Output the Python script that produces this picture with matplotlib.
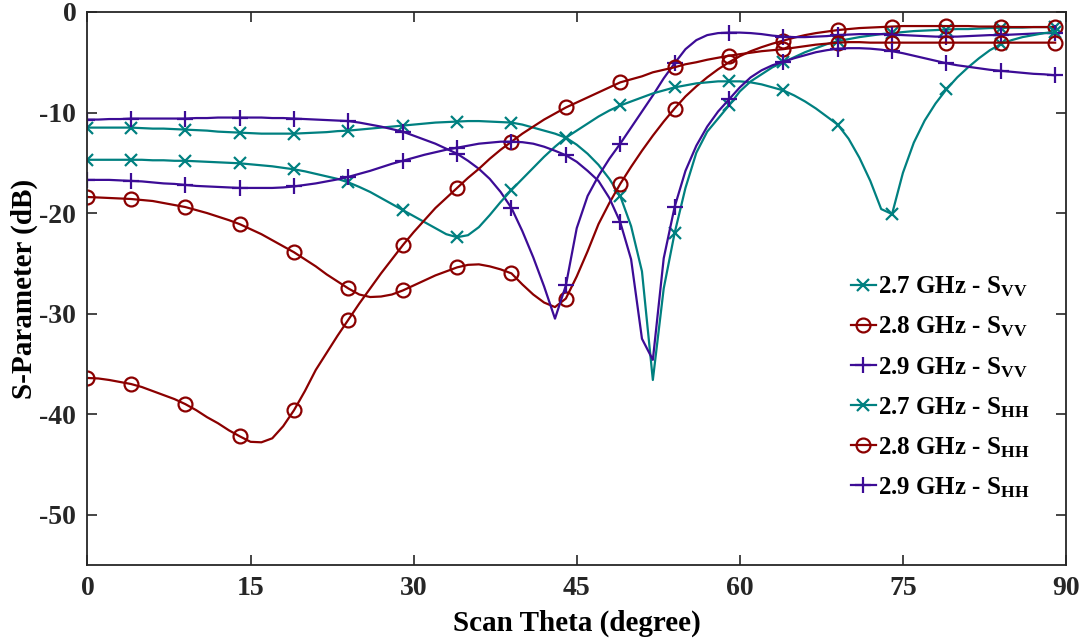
import numpy as np
import matplotlib
matplotlib.use('Agg')
import matplotlib.pyplot as plt

# 扫描角 (degree)，每 1 度一个点
theta = np.arange(0, 90)

# 2.7 GHz
s27_vv = [-11.5, -11.5, -11.5, -11.5, -11.5, -11.55, -11.6, -11.6, -11.65, -11.7,
          -11.75, -11.8, -11.9, -11.95, -12.0, -12.05, -12.1, -12.1, -12.1, -12.1,
          -12.05, -12.0, -11.95, -11.85, -11.8, -11.7, -11.6, -11.5, -11.4, -11.3,
          -11.2, -11.1, -11.0, -10.95, -10.9, -10.85, -10.85, -10.9, -10.95, -11.0,
          -11.2, -11.5, -11.8, -12.1, -12.5, -13.2, -14.1, -15.2, -16.6, -18.3,
          -21.3, -25.8, -36.6, -27.5, -22.0, -17.5, -14.0, -11.9, -10.6, -9.3,
          -7.9, -6.9, -6.2, -5.5, -5.0, -4.5, -4.0, -3.6, -3.2, -2.9,
          -2.7, -2.5, -2.35, -2.2, -2.1, -2.0, -1.9, -1.85, -1.8, -1.75,
          -1.7, -1.7, -1.65, -1.6, -1.6, -1.55, -1.55, -1.5, -1.5, -1.5]
s27_hh = [-14.7, -14.7, -14.7, -14.7, -14.7, -14.7, -14.75, -14.75, -14.8, -14.8,
          -14.85, -14.9, -14.95, -15.0, -15.05, -15.15, -15.25, -15.35, -15.5, -15.65,
          -15.85, -16.1, -16.35, -16.6, -16.95, -17.4, -17.9, -18.5, -19.1, -19.7,
          -20.3, -20.9, -21.5, -22.1, -22.4, -22.2, -21.4, -20.2, -18.9, -17.7,
          -16.6, -15.5, -14.4, -13.4, -12.5, -11.8, -11.1, -10.4, -9.8, -9.3,
          -8.9, -8.5, -8.1, -7.8, -7.5, -7.3, -7.1, -7.0, -6.9, -6.9,
          -6.9, -7.0, -7.2, -7.5, -7.8, -8.3, -8.9, -9.6, -10.4, -11.2,
          -12.6, -14.5, -16.8, -19.6, -20.1, -16.0, -13.0, -10.8, -9.1, -7.7,
          -6.5, -5.5, -4.6, -3.8, -3.2, -2.8, -2.5, -2.3, -2.1, -2.0]

# 2.8 GHz
s28_vv = [-18.4, -18.45, -18.5, -18.55, -18.6, -18.7, -18.8, -19.0, -19.2, -19.4,
          -19.7, -20.0, -20.35, -20.7, -21.1, -21.6, -22.1, -22.7, -23.3, -23.9,
          -24.6, -25.3, -26.1, -26.8, -27.5, -28.1, -28.35, -28.3, -28.1, -27.7,
          -27.2, -26.7, -26.2, -25.8, -25.4, -25.15, -25.1, -25.3, -25.6, -26.0,
          -27.1, -28.1, -28.9, -29.35, -28.5, -26.3, -23.8, -21.1, -19.0, -17.1,
          -15.4, -13.8, -12.3, -10.9, -9.6, -8.4, -7.4, -6.5, -5.7, -5.0,
          -4.4, -3.9, -3.5, -3.15, -2.85, -2.55, -2.3, -2.1, -1.95, -1.8,
          -1.7, -1.6, -1.55, -1.5, -1.45, -1.4, -1.4, -1.4, -1.4, -1.4,
          -1.4, -1.4, -1.45, -1.45, -1.45, -1.5, -1.5, -1.5, -1.5, -1.5]
s28_hh = [-36.4, -36.45, -36.6, -36.8, -37.0, -37.3, -37.7, -38.1, -38.5, -39.0,
          -39.6, -40.3, -40.9, -41.6, -42.2, -42.75, -42.8, -42.4, -41.2, -39.6,
          -37.7, -35.6, -33.9, -32.2, -30.6, -29.0, -27.5, -26.0, -24.6, -23.2,
          -21.9, -20.7, -19.5, -18.5, -17.5, -16.5, -15.6, -14.6, -13.7, -12.9,
          -12.1, -11.4, -10.7, -10.1, -9.5, -9.0, -8.5, -8.0, -7.5, -7.0,
          -6.7, -6.4, -6.0, -5.75, -5.5, -5.2, -5.0, -4.75, -4.55, -4.35,
          -4.2, -4.05, -3.9, -3.8, -3.7, -3.55, -3.4, -3.25, -3.15, -3.05,
          -3.0, -3.0, -3.05, -3.05, -3.05, -3.05, -3.05, -3.05, -3.05, -3.05,
          -3.05, -3.05, -3.05, -3.05, -3.05, -3.05, -3.05, -3.05, -3.05, -3.05]

# 2.9 GHz
s29_vv = [-10.7, -10.7, -10.65, -10.65, -10.6, -10.6, -10.6, -10.6, -10.6, -10.6,
          -10.55, -10.55, -10.5, -10.5, -10.5, -10.5, -10.5, -10.55, -10.55, -10.6,
          -10.65, -10.7, -10.75, -10.8, -10.85, -11.0, -11.2, -11.4, -11.65, -11.9,
          -12.3, -12.7, -13.1, -13.6, -14.1, -14.8, -15.6, -16.6, -17.9, -19.5,
          -21.8, -24.4, -27.3, -30.5, -27.2, -21.5, -18.3, -16.3, -14.6, -13.1,
          -11.5, -9.9, -8.3, -6.6, -5.1, -3.7, -2.8, -2.3, -2.1, -2.05,
          -2.05, -2.1, -2.2, -2.35, -2.45, -2.5, -2.5, -2.45, -2.4, -2.3,
          -2.25, -2.2, -2.2, -2.2, -2.25, -2.3, -2.35, -2.4, -2.45, -2.45,
          -2.45, -2.4, -2.35, -2.3, -2.3, -2.25, -2.2, -2.15, -2.1, -2.1]
s29_hh = [-16.7, -16.7, -16.7, -16.75, -16.8, -16.85, -16.95, -17.05, -17.1, -17.2,
          -17.3, -17.35, -17.4, -17.45, -17.5, -17.5, -17.5, -17.5, -17.45, -17.35,
          -17.2, -17.05, -16.85, -16.65, -16.4, -16.1, -15.8, -15.45, -15.1, -14.8,
          -14.5, -14.2, -13.95, -13.7, -13.5, -13.3, -13.1, -13.0, -12.9, -12.9,
          -12.95, -13.1, -13.4, -13.8, -14.25, -14.9, -15.8, -16.8, -18.5, -20.9,
          -24.6, -32.5, -34.6, -24.5, -19.4, -15.8, -13.3, -11.4, -9.9, -8.7,
          -7.5, -6.5, -5.8, -5.3, -4.95, -4.6, -4.3, -4.0, -3.8, -3.65,
          -3.6, -3.6, -3.65, -3.75, -3.9, -4.1, -4.35, -4.6, -4.85, -5.1,
          -5.3, -5.45, -5.6, -5.75, -5.85, -5.95, -6.05, -6.15, -6.2, -6.3]

labels = [r'2.7 GHz - S$_{\mathrm{VV}}$', r'2.8 GHz - S$_{\mathrm{VV}}$',
          r'2.9 GHz - S$_{\mathrm{VV}}$', r'2.7 GHz - S$_{\mathrm{HH}}$',
          r'2.8 GHz - S$_{\mathrm{HH}}$', r'2.9 GHz - S$_{\mathrm{HH}}$']
series = [s27_vv, s28_vv, s29_vv, s27_hh, s28_hh, s29_hh]

C_TEAL = '#008080'
C_RED = '#8b0000'
C_PURPLE = '#3c0c96'
styles = [(C_TEAL, 'x', 8), (C_RED, 'o', 10), (C_PURPLE, '+', 11)] * 2

# 标记位置：0, 4, 9, 14, ..., 89
mark_idx = [0] + list(range(4, 90, 5))


def main():
    plt.rcParams['font.family'] = ['Liberation Serif', 'DejaVu Serif']
    plt.rcParams['font.weight'] = 'bold'
    plt.rcParams['axes.unicode_minus'] = False
    plt.rcParams['mathtext.fontset'] = 'custom'
    plt.rcParams['mathtext.rm'] = 'Liberation Serif:bold'
    plt.rcParams['mathtext.bf'] = 'Liberation Serif:bold'
    plt.rcParams['mathtext.it'] = 'Liberation Serif:bold'

    fig = plt.figure(figsize=(10.85, 6.44), dpi=100)
    ax = fig.add_axes([0.0806, 0.1227, 0.9019, 0.8587])

    for vals, lab, (col, mk, ms) in zip(series, labels, styles):
        ax.plot(theta, vals, color=col, lw=1.6, marker=mk, markersize=ms,
                markeredgewidth=1.6, markerfacecolor='none',
                markevery=mark_idx, label=lab)

    ax.set_xlim(0, 90)
    ax.set_ylim(-55, 0)
    ax.set_xticks(np.arange(0, 91, 15))
    ax.set_yticks([-50, -40, -30, -20, -10, 0])
    ax.tick_params(direction='in', length=7, width=1.2, top=True, right=True,
                   labelsize=20, colors='#262626', pad=8)
    for sp in ax.spines.values():
        sp.set_color('#262626')
        sp.set_linewidth(1.3)

    ax.set_xlabel('Scan Theta (degree)', fontsize=21, fontweight='bold', labelpad=6)
    ax.set_ylabel('S-Parameter (dB)', fontsize=21, fontweight='bold', labelpad=1)

    ax.legend(loc='upper left', bbox_to_anchor=(0.77, 0.543), frameon=False,
              fontsize=18, handlelength=1.0, handletextpad=0.1,
              labelspacing=0.62, numpoints=1, borderaxespad=0)

    fig.savefig('out.png', dpi=100)


if __name__ == '__main__':
    main()
